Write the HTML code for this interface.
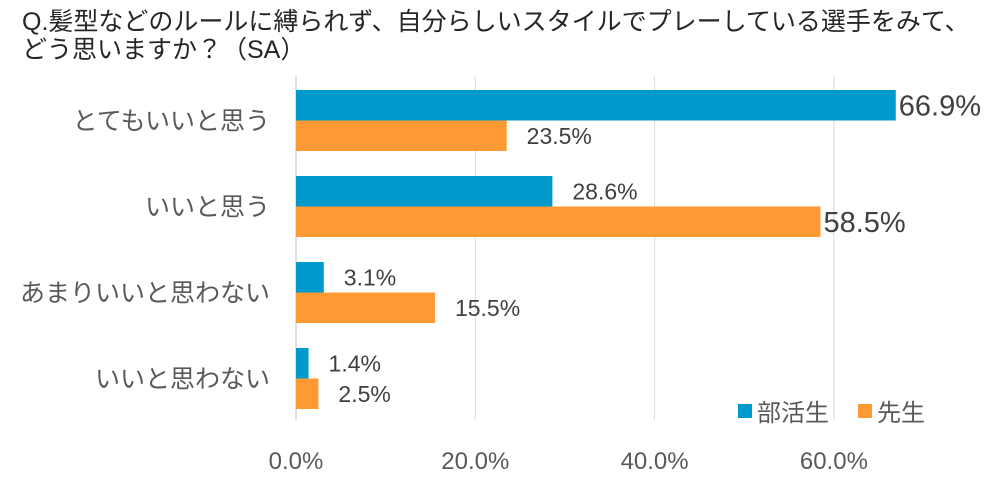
<!DOCTYPE html>
<html><head><meta charset="utf-8">
<style>
body{margin:0;background:#fff;}
svg text{font-family:"Liberation Sans","Noto Sans CJK JP",sans-serif;}
</style></head>
<body>
<svg id="chart" width="1003" height="478" xmlns="http://www.w3.org/2000/svg">
<text x="22" y="30" font-size="25" fill="#262626">Q.髪型などのルールに縛られず、自分らしいスタイルでプレーしている選手をみて、</text>
<text x="22" y="58" font-size="25" fill="#262626">どう思いますか？（SA）</text>
<g id="grid"></g>
<g id="bars"></g>
<g id="labels"></g>
<g>
<rect x="738" y="404" width="14" height="14" fill="#0099cc"/>
<text x="757" y="421" font-size="24" fill="#595959">部活生</text>
<rect x="858" y="404" width="14" height="14" fill="#ff9933"/>
<text x="877" y="421" font-size="24" fill="#595959">先生</text>
</g>
</svg>
<script>
const categories=["とてもいいと思う","いいと思う","あまりいいと思わない","いいと思わない"];
const studentValues=[66.9,28.6,3.1,1.4];
const teacherValues=[23.5,58.5,15.5,2.5];
const tickValues=[0,20,40,60];
const tickLabels=["0.0%","20.0%","40.0%","60.0%"];
const NS="http://www.w3.org/2000/svg";
const x0=296,pxPer=179.3/20,top0=76,rowH=86,barH=30.5;
function xs(v){return x0+v*pxPer;}
function mk(t,a,p){const e=document.createElementNS(NS,t);for(const k in a)e.setAttribute(k,a[k]);p.appendChild(e);return e;}
const grid=document.getElementById('grid'),bars=document.getElementById('bars'),labels=document.getElementById('labels');
tickValues.forEach((v,i)=>{
 const l=mk('line',{x1:xs(v),x2:xs(v),y1:top0,y2:top0+rowH*4,stroke:i==0?'#bfbfbf':'#d9d9d9','stroke-width':1},grid);
 
 
 const t=mk('text',{x:xs(v),y:469,'font-size':24,fill:'#595959','text-anchor':'middle'},grid);
 t.textContent=tickLabels[i];
 
 
});
categories.forEach((c,i)=>{
 const mid=top0+rowH*i+rowH/2+1.5;
 const t=mk('text',{x:270,y:mid+9,'font-size':25,fill:'#595959','text-anchor':'end'},labels);
 t.textContent=c;
 
 
 [[studentValues[i],'#0099cc',mid-barH,'student'],[teacherValues[i],'#ff9933',mid,'teacher']].forEach(([v,col,y,s])=>{
  const r=mk('rect',{x:x0,y:y,width:xs(v)-x0,height:barH,fill:col},bars);
  
  
  const big=v>50;
  const tx=mk('text',{x:xs(v)+(big?3:20),y:y+barH/2+(big?10:8),'font-size':big?29:23,fill:'#404040'},labels);
  tx.textContent=v.toFixed(1)+'%';
  
  
 });
});
</script>
</body></html>
